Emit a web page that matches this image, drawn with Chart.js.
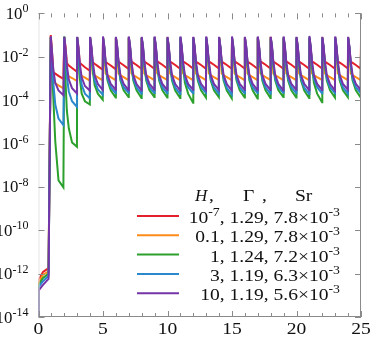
<!DOCTYPE html>
<html>
<head>
<meta charset="utf-8">
<script src="https://cdn.jsdelivr.net/npm/chart.js@4.4.1/dist/chart.umd.min.js"></script>
<style>
  html, body { margin: 0; padding: 0; background: #fff; }
</style>
</head>
<body>
<canvas id="chart" width="380" height="338"></canvas>
<script>
// spike times (one per cycle) and sample phases inside a cycle
const spikeAt = [0.95, 2, 3, 4, 5, 6, 7, 8, 9, 10, 11, 12, 13, 14, 15, 16, 17, 18, 19, 20, 21, 22, 23, 24];
const phase = [0, 0.1, 0.2, 0.35, 0.6, 0.98];
const leadX = [0, 0, 0.35, 0.78];
const endX = 25;

const xTicks = [0, 5, 10, 15, 20, 25];
const yTickExp = [0, -2, -4, -6, -8, -10, -12, -14];

// legend text
const hLabel = [['10', '-7'], ['0.1', ''], ['1', ''], ['3', ''], ['10', '']];
const gammaVals = ['1.29', '1.29', '1.24', '1.19', '1.19'];
const srMant = ['7.8', '7.8', '7.2', '6.3', '5.6'];
const srExp = '-3';
const colors = ['#e3212b', '#ff8c1a', '#2ca02c', '#2b88cc', '#7535a8'];

// values are log10 of the plotted quantity
const redLead = [-14, -12.3, -11.92, -11.75];
const redCycles = [
  [-1.00, -1.80, -2.70, -2.78, -2.88, -3.02],
  [-1.10, -1.60, -2.30, -2.40, -2.52, -2.69],
  [-1.10, -1.60, -2.28, -2.36, -2.48, -2.65],
  [-1.12, -1.60, -2.25, -2.32, -2.43, -2.60],
  [-1.10, -1.60, -2.23, -2.30, -2.40, -2.57],
  [-1.12, -1.60, -2.22, -2.29, -2.39, -2.56],
  [-1.10, -1.60, -2.21, -2.28, -2.38, -2.55],
  [-1.14, -1.62, -2.22, -2.28, -2.38, -2.55],
  [-1.10, -1.60, -2.21, -2.27, -2.37, -2.54],
  [-1.12, -1.60, -2.22, -2.28, -2.38, -2.55],
  [-1.16, -1.62, -2.21, -2.27, -2.37, -2.54],
  [-1.10, -1.60, -2.22, -2.28, -2.38, -2.55],
  [-1.12, -1.60, -2.21, -2.27, -2.37, -2.54],
  [-1.10, -1.60, -2.22, -2.28, -2.38, -2.55],
  [-1.14, -1.62, -2.21, -2.27, -2.37, -2.54],
  [-1.10, -1.60, -2.22, -2.28, -2.38, -2.55],
  [-1.12, -1.60, -2.21, -2.27, -2.37, -2.54],
  [-1.08, -1.60, -2.22, -2.28, -2.38, -2.55],
  [-1.12, -1.60, -2.21, -2.27, -2.37, -2.54],
  [-1.10, -1.60, -2.22, -2.28, -2.38, -2.55],
  [-1.14, -1.62, -2.21, -2.27, -2.37, -2.54],
  [-1.10, -1.60, -2.22, -2.28, -2.38, -2.55],
  [-1.12, -1.60, -2.21, -2.27, -2.37, -2.54],
  [-1.10, -1.60, -2.22, -2.28, -2.38, -2.55]
];
const redEnd = -1.2;

const orangeLead = [-14, -12.42, -12.05, -11.9];
const orangeCycles = [
  [-1.05, -2.00, -3.15, -3.22, -3.32, -3.46],
  [-1.10, -1.70, -2.82, -2.90, -2.98, -3.12],
  [-1.10, -1.70, -2.80, -2.88, -2.96, -3.10],
  [-1.12, -1.72, -2.78, -2.86, -2.95, -3.09],
  [-1.12, -1.72, -2.77, -2.85, -2.94, -3.08],
  [-1.10, -1.72, -2.77, -2.85, -2.94, -3.08],
  [-1.12, -1.72, -2.76, -2.85, -2.94, -3.08],
  [-1.14, -1.72, -2.77, -2.85, -2.94, -3.08],
  [-1.12, -1.72, -2.76, -2.85, -2.94, -3.07],
  [-1.10, -1.72, -2.77, -2.85, -2.94, -3.08],
  [-1.12, -1.72, -2.76, -2.85, -2.94, -3.08],
  [-1.14, -1.72, -2.77, -2.85, -2.94, -3.08],
  [-1.12, -1.72, -2.76, -2.85, -2.94, -3.07],
  [-1.10, -1.72, -2.77, -2.85, -2.94, -3.08],
  [-1.12, -1.72, -2.76, -2.85, -2.94, -3.08],
  [-1.14, -1.72, -2.77, -2.85, -2.94, -3.08],
  [-1.12, -1.72, -2.76, -2.85, -2.94, -3.07],
  [-1.10, -1.72, -2.77, -2.85, -2.94, -3.08],
  [-1.12, -1.72, -2.76, -2.85, -2.94, -3.08],
  [-1.14, -1.72, -2.77, -2.85, -2.94, -3.08],
  [-1.12, -1.72, -2.76, -2.85, -2.94, -3.07],
  [-1.10, -1.72, -2.77, -2.85, -2.94, -3.08],
  [-1.12, -1.72, -2.76, -2.85, -2.94, -3.08],
  [-1.12, -1.72, -2.77, -2.85, -2.94, -3.08]
];
const orangeEnd = -1.5;

const greenLead = [-14, -12.52, -12.2, -12.0];
const greenCycles = [
  [-1.10, -2.50, -3.90, -5.90, -7.70, -8.02],
  [-1.05, -3.20, -4.50, -5.30, -5.95, -6.15],
  [-1.10, -2.00, -3.00, -3.70, -4.05, -4.20],
  [-1.10, -1.70, -2.60, -3.30, -3.70, -3.98],
  [-1.12, -1.60, -2.40, -3.10, -3.55, -3.88],
  [-1.12, -1.60, -2.40, -3.10, -3.55, -3.86],
  [-1.14, -1.60, -2.40, -3.10, -3.55, -3.90],
  [-1.12, -1.60, -2.40, -3.10, -3.54, -3.85],
  [-1.12, -1.60, -2.40, -3.10, -3.55, -3.88],
  [-1.14, -1.60, -2.40, -3.10, -3.56, -3.90],
  [-1.12, -1.62, -2.45, -3.20, -3.70, -4.12],
  [-1.12, -1.60, -2.40, -3.10, -3.55, -3.88],
  [-1.14, -1.60, -2.40, -3.10, -3.55, -3.86],
  [-1.12, -1.60, -2.40, -3.10, -3.56, -3.92],
  [-1.12, -1.60, -2.40, -3.10, -3.55, -3.88],
  [-1.14, -1.60, -2.40, -3.10, -3.55, -3.92],
  [-1.12, -1.60, -2.40, -3.10, -3.55, -3.90],
  [-1.12, -1.60, -2.40, -3.10, -3.54, -3.86],
  [-1.14, -1.60, -2.40, -3.10, -3.55, -3.88],
  [-1.12, -1.60, -2.40, -3.10, -3.56, -3.90],
  [-1.12, -1.62, -2.45, -3.20, -3.70, -4.10],
  [-1.14, -1.60, -2.40, -3.10, -3.55, -3.88],
  [-1.12, -1.60, -2.40, -3.10, -3.55, -3.86],
  [-1.12, -1.60, -2.40, -3.10, -3.55, -3.88]
];
const greenEnd = -1.6;

const blueLead = [-14, -12.62, -12.35, -12.1];
const blueCycles = [
  [-1.10, -2.20, -3.20, -4.20, -4.85, -5.15],
  [-1.10, -1.90, -2.90, -3.60, -4.05, -4.31],
  [-1.10, -1.70, -2.60, -3.30, -3.70, -3.92],
  [-1.10, -1.60, -2.40, -3.10, -3.50, -3.75],
  [-1.10, -1.55, -2.30, -3.00, -3.40, -3.68],
  [-1.12, -1.55, -2.30, -3.00, -3.40, -3.66],
  [-1.10, -1.55, -2.30, -3.00, -3.41, -3.70],
  [-1.12, -1.55, -2.30, -3.00, -3.40, -3.67],
  [-1.10, -1.55, -2.30, -3.00, -3.40, -3.68],
  [-1.12, -1.55, -2.30, -3.00, -3.42, -3.72],
  [-1.10, -1.55, -2.30, -3.00, -3.40, -3.68],
  [-1.12, -1.55, -2.30, -3.00, -3.40, -3.66],
  [-1.10, -1.55, -2.30, -3.00, -3.41, -3.70],
  [-1.12, -1.55, -2.30, -3.00, -3.43, -3.74],
  [-1.10, -1.55, -2.30, -3.00, -3.40, -3.68],
  [-1.12, -1.55, -2.30, -3.00, -3.40, -3.67],
  [-1.10, -1.55, -2.30, -3.00, -3.41, -3.70],
  [-1.12, -1.55, -2.30, -3.00, -3.40, -3.66],
  [-1.10, -1.55, -2.30, -3.00, -3.40, -3.68],
  [-1.12, -1.55, -2.30, -3.00, -3.42, -3.72],
  [-1.10, -1.55, -2.30, -3.00, -3.40, -3.68],
  [-1.12, -1.55, -2.30, -3.00, -3.40, -3.67],
  [-1.10, -1.55, -2.30, -3.00, -3.41, -3.70],
  [-1.12, -1.55, -2.30, -3.00, -3.40, -3.68]
];
const blueEnd = -1.6;

const purpleLead = [-14, -12.78, -12.52, -12.24];
const purpleCycles = [
  [-1.05, -1.80, -2.60, -3.20, -3.55, -3.77],
  [-1.08, -1.60, -2.40, -3.05, -3.45, -3.69],
  [-1.08, -1.55, -2.30, -2.95, -3.35, -3.56],
  [-1.08, -1.50, -2.20, -2.85, -3.25, -3.53],
  [-1.06, -1.50, -2.20, -2.85, -3.25, -3.52],
  [-1.08, -1.50, -2.20, -2.85, -3.25, -3.54],
  [-1.06, -1.50, -2.20, -2.85, -3.26, -3.55],
  [-1.08, -1.50, -2.20, -2.85, -3.25, -3.52],
  [-1.06, -1.50, -2.20, -2.85, -3.25, -3.53],
  [-1.08, -1.50, -2.20, -2.85, -3.26, -3.56],
  [-1.06, -1.50, -2.20, -2.85, -3.25, -3.52],
  [-1.08, -1.50, -2.20, -2.85, -3.25, -3.54],
  [-1.06, -1.50, -2.20, -2.85, -3.25, -3.53],
  [-1.08, -1.50, -2.20, -2.85, -3.26, -3.56],
  [-1.06, -1.50, -2.20, -2.85, -3.25, -3.52],
  [-1.08, -1.50, -2.20, -2.85, -3.25, -3.54],
  [-1.06, -1.50, -2.20, -2.85, -3.25, -3.53],
  [-1.08, -1.50, -2.20, -2.85, -3.26, -3.55],
  [-1.06, -1.50, -2.20, -2.85, -3.25, -3.52],
  [-1.08, -1.50, -2.20, -2.85, -3.25, -3.54],
  [-1.04, -1.50, -2.20, -2.85, -3.25, -3.53],
  [-1.08, -1.50, -2.20, -2.85, -3.26, -3.55],
  [-1.06, -1.50, -2.20, -2.85, -3.25, -3.52],
  [-1.08, -1.50, -2.20, -2.85, -3.25, -3.54]
];
const purpleEnd = -1.7;

function buildPoints(lead, cycles, end) {
  const pts = [];
  leadX.forEach((x, i) => pts.push({ x: x, y: Math.pow(10, lead[i]) }));
  cycles.forEach((row, k) => {
    row.forEach((v, j) => pts.push({ x: spikeAt[k] + phase[j], y: Math.pow(10, v) }));
  });
  pts.push({ x: endX, y: Math.pow(10, end) });
  return pts;
}

const series = [
  buildPoints(redLead, redCycles, redEnd),
  buildPoints(orangeLead, orangeCycles, orangeEnd),
  buildPoints(greenLead, greenCycles, greenEnd),
  buildPoints(blueLead, blueCycles, blueEnd),
  buildPoints(purpleLead, purpleCycles, purpleEnd)
];

const serif = '"Liberation Serif", "DejaVu Serif", serif';

// text pieces: [text, isSuperscript]; sx stretches the text sideways
function drawRich(ctx, parts, x, y, align, size, supSize, rise, sx) {
  let total = 0;
  parts.forEach(p => {
    ctx.font = (p[1] ? supSize : size) + 'px ' + serif;
    total += ctx.measureText(p[0]).width;
  });
  total *= sx;
  const x0 = align === 'right' ? x - total : (align === 'center' ? x - total / 2 : x);
  ctx.save();
  ctx.translate(x0, y);
  ctx.scale(sx, 1);
  ctx.textAlign = 'left';
  ctx.textBaseline = 'alphabetic';
  let cx = 0;
  parts.forEach(p => {
    ctx.font = (p[1] ? supSize : size) + 'px ' + serif;
    ctx.fillText(p[0], cx, p[1] ? -rise : 0);
    cx += ctx.measureText(p[0]).width;
  });
  ctx.restore();
}

const axesPlugin = {
  id: 'axesPlugin',
  afterDraw(chart) {
    const ctx = chart.ctx;
    const xs = chart.scales.x, ys = chart.scales.y;
    const a = chart.chartArea;
    ctx.save();
    ctx.lineWidth = 1;

    // faint left edge, grey bottom and right axes
    ctx.strokeStyle = '#e4e4e4';
    ctx.beginPath(); ctx.moveTo(a.left + 0.5, a.top); ctx.lineTo(a.left + 0.5, a.bottom); ctx.stroke();
    ctx.strokeStyle = '#8a8a8a';
    ctx.beginPath();
    ctx.moveTo(a.left, a.bottom - 0.5); ctx.lineTo(a.right, a.bottom - 0.5);
    ctx.moveTo(a.right - 0.5, a.top); ctx.lineTo(a.right - 0.5, a.bottom);
    ctx.stroke();

    // x ticks, every unit, bottom and top, inward
    ctx.beginPath();
    for (let v = 0; v <= 25; v++) {
      const px = Math.round(xs.getPixelForValue(v)) + 0.5;
      const len = v % 5 === 0 ? 6 : 4;
      ctx.moveTo(px, a.bottom); ctx.lineTo(px, a.bottom - len);
      ctx.moveTo(px, a.top); ctx.lineTo(px, a.top + len);
    }
    // y ticks, both sides, inward
    yTickExp.forEach(e => {
      const py = Math.round(ys.getPixelForValue(Math.pow(10, e))) + 0.5;
      ctx.moveTo(a.left, py); ctx.lineTo(a.left + 6, py);
      ctx.moveTo(a.right, py); ctx.lineTo(a.right - 6, py);
    });
    ctx.stroke();

    ctx.fillStyle = '#111';
    // y labels
    yTickExp.forEach(e => {
      const py = ys.getPixelForValue(Math.pow(10, e));
      drawRich(ctx, [['10', false], [String(e), true]], 28.5, py + 5.5, 'right', 16, 11.5, 6.5, 1.05);
    });
    // x labels
    xTicks.forEach(v => {
      drawRich(ctx, [[String(v), false]], xs.getPixelForValue(v), 334, 'center', 17, 11, 0, 1.15);
    });

    // legend header
    ctx.font = 'italic 17px ' + serif;
    ctx.textAlign = 'left';
    ctx.fillText('H', 195, 201);
    drawRich(ctx, [[',', false]], 209, 201, 'left', 17, 12, 0, 1.15);
    drawRich(ctx, [['\u0393', false]], 243, 201, 'left', 17, 12, 0, 1.15);
    drawRich(ctx, [[',', false]], 262, 201, 'left', 17, 12, 0, 1.15);
    drawRich(ctx, [['Sr', false]], 295, 201, 'left', 17, 12, 0, 1.15);

    // legend rows
    hLabel.forEach((h, i) => {
      const base = 223 + i * 19.3;
      ctx.strokeStyle = colors[i];
      ctx.lineWidth = 2;
      ctx.beginPath();
      ctx.moveTo(137, base - 7); ctx.lineTo(179, base - 7);
      ctx.stroke();
      ctx.fillStyle = '#111';
      const parts = [[h[0], false]];
      if (h[1]) parts.push([h[1], true]);
      parts.push([', ' + gammaVals[i] + ', ' + srMant[i] + '\u00d710', false]);
      parts.push([srExp, true]);
      drawRich(ctx, parts, 340, base, 'right', 17, 12, 7, 1.15);
    });
    ctx.restore();
  }
};

const names = ['H = 1e-7', 'H = 0.1', 'H = 1', 'H = 3', 'H = 10'];

new Chart(document.getElementById('chart').getContext('2d'), {
  type: 'line',
  data: {
    datasets: series.map((pts, i) => ({
      label: names[i],
      data: pts,
      borderColor: colors[i],
      backgroundColor: colors[i],
      borderWidth: 2,
      pointRadius: 0,
      tension: 0,
      fill: false,
      order: 4 - i
    }))
  },
  options: {
    responsive: false,
    animation: false,
    devicePixelRatio: 1,
    layout: { padding: { left: 38.5, right: 19, top: 13.4, bottom: 21 } },
    plugins: { legend: { display: false }, tooltip: { enabled: false } },
    scales: {
      x: { type: 'linear', min: 0, max: 25, display: false },
      y: { type: 'logarithmic', min: 1e-14, max: 1, display: false }
    }
  },
  plugins: [axesPlugin]
});
</script>
</body>
</html>
